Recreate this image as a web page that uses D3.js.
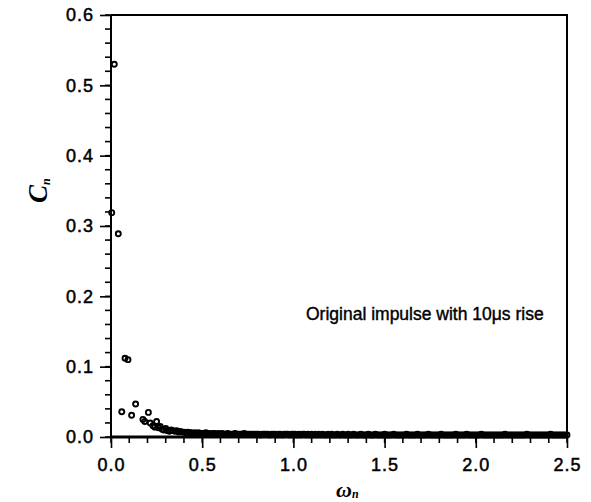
<!DOCTYPE html>
<html>
<head>
<meta charset="utf-8">
<script src="https://cdn.jsdelivr.net/npm/d3@7"></script>
<style>
body{margin:0;background:#fff}
svg text{font-family:Arial,"Liberation Sans",sans-serif;fill:#000}
</style>
</head>
<body>
<svg id="graph"></svg>
<script>
// tick labels
var xMajor = [0,0.5,1.0,1.5,2.0,2.5]
var xTickLabels = ["0.0","0.5","1.0","1.5","2.0","2.5"]
var yMajor = [0,0.1,0.2,0.3,0.4,0.5,0.6]
var yTickLabels = ["0.0","0.1","0.2","0.3","0.4","0.5","0.6"]

// first harmonics
var omegaHead = [0.004,0.018,0.040,0.059,0.077,0.093,0.113,0.135,0.175,0.185,0.205,0.215,0.230,0.240,0.250,0.260,0.270,0.280,0.290,0.300,0.310,0.320,0.330]
var cnHead = [0.319,0.530,0.289,0.036,0.112,0.110,0.031,0.047,0.025,0.022,0.035,0.020,0.016,0.014,0.022,0.013,0.015,0.011,0.010,0.012,0.009,0.008,0.010]

// the long tail sitting on the axis
var omegaTail = [0.34,0.35,0.36,0.37,0.38,0.39,
0.40,0.41,0.42,0.43,0.44,0.45,0.46,0.47,0.48,0.49,
0.50,0.51,0.52,0.53,0.54,0.55,0.56,0.57,0.58,0.59,
0.60,0.61,0.62,0.63,0.64,0.65,0.66,0.67,0.68,0.69,
0.70,0.71,0.72,0.73,0.74,0.75,0.76,0.77,0.78,0.79,
0.80,0.81,0.82,0.83,0.84,0.85,0.86,0.87,0.88,0.89,
0.90,0.91,0.92,0.93,0.94,0.95,0.96,0.97,0.98,0.99,
1.00,1.01,1.02,1.03,1.04,1.05,1.06,1.07,1.08,1.09,
1.10,1.11,1.12,1.13,1.14,1.15,1.16,1.17,1.18,1.19,
1.20,1.21,1.22,1.23,1.24,1.25,1.26,1.27,1.28,1.29,
1.30,1.31,1.32,1.33,1.34,1.35,1.36,1.37,1.38,1.39,
1.40,1.41,1.42,1.43,1.44,1.45,1.46,1.47,1.48,1.49,
1.50,1.51,1.52,1.53,1.54,1.55,1.56,1.57,1.58,1.59,
1.60,1.61,1.62,1.63,1.64,1.65,1.66,1.67,1.68,1.69,
1.70,1.71,1.72,1.73,1.74,1.75,1.76,1.77,1.78,1.79,
1.80,1.81,1.82,1.83,1.84,1.85,1.86,1.87,1.88,1.89,
1.90,1.91,1.92,1.93,1.94,1.95,1.96,1.97,1.98,1.99,
2.00,2.01,2.02,2.03,2.04,2.05,2.06,2.07,2.08,2.09,
2.10,2.11,2.12,2.13,2.14,2.15,2.16,2.17,2.18,2.19,
2.20,2.21,2.22,2.23,2.24,2.25,2.26,2.27,2.28,2.29,
2.30,2.31,2.32,2.33,2.34,2.35,2.36,2.37,2.38,2.39,
2.40,2.41,2.42,2.43,2.44,2.45,2.46,2.47,2.48,2.49,
2.50]
var cnTail = [0.009,0.008,0.009,0.007,0.008,0.007,
0.007,0.006,0.007,0.006,0.006,0.005,0.006,0.005,0.006,0.005,
0.005,0.005,0.006,0.005,0.005,0.004,0.005,0.005,0.004,0.005,
0.004,0.005,0.004,0.004,0.005,0.004,0.004,0.004,0.005,0.004,
0.004,0.004,0.004,0.005,0.004,0.004,0.004,0.004,0.004,0.004,
0.004,0.004,0.003,0.004,0.004,0.004,0.004,0.003,0.004,0.004,
0.004,0.003,0.004,0.004,0.003,0.004,0.004,0.004,0.003,0.004,
0.004,0.004,0.003,0.004,0.003,0.004,0.004,0.003,0.004,0.003,
0.004,0.003,0.004,0.003,0.004,0.003,0.004,0.003,0.003,0.004,
0.003,0.004,0.003,0.003,0.004,0.003,0.003,0.004,0.003,0.003,
0.004,0.003,0.003,0.004,0.003,0.003,0.003,0.004,0.003,0.003,
0.003,0.004,0.003,0.003,0.003,0.004,0.003,0.003,0.003,0.003,
0.004,0.003,0.003,0.003,0.003,0.004,0.003,0.003,0.003,0.003,
0.003,0.003,0.004,0.003,0.003,0.003,0.003,0.003,0.004,0.003,
0.003,0.003,0.003,0.003,0.004,0.003,0.003,0.003,0.003,0.003,
0.003,0.004,0.003,0.003,0.003,0.003,0.003,0.003,0.003,0.004,
0.003,0.003,0.003,0.003,0.003,0.004,0.003,0.003,0.003,0.003,
0.003,0.003,0.003,0.004,0.003,0.003,0.003,0.003,0.003,0.003,
0.003,0.003,0.003,0.003,0.003,0.003,0.004,0.003,0.003,0.003,
0.003,0.003,0.003,0.003,0.003,0.003,0.003,0.003,0.004,0.003,
0.003,0.003,0.003,0.003,0.003,0.003,0.003,0.003,0.003,0.003,
0.003,0.004,0.003,0.003,0.003,0.003,0.003,0.003,0.003,0.003,
0.003]

var noteText = "Original impulse with 10\u03bcs rise"

var screen = {width:591,height:502}
var plot = {left:111,right:567,top:15,bottom:437}

var svg = d3.select("#graph")
.attr("width",screen.width)
.attr("height",screen.height)

var xscale = d3.scaleLinear()
.domain([0,2.5])
.range([plot.left,plot.right])

var yscale = d3.scaleLinear()
.domain([0,0.6])
.range([plot.bottom,plot.top])

// minor ticks, drawn by hand from the scales
var xMinor = d3.range(0,26).map(function(i){return i/10})
var yMinor = d3.range(0,31).map(function(i){return i/50})

svg.append("g")
.selectAll("line")
.data(xMinor)
.enter()
.append("line")
.attr("x1",function(d){return xscale(d)})
.attr("x2",function(d){return xscale(d)})
.attr("y1",plot.bottom)
.attr("y2",plot.bottom+6)
.attr("stroke","#000")
.attr("stroke-width",1.6)

svg.append("g")
.selectAll("line")
.data(yMinor)
.enter()
.append("line")
.attr("x1",plot.left)
.attr("x2",plot.left-6)
.attr("y1",function(d){return yscale(d)})
.attr("y2",function(d){return yscale(d)})
.attr("stroke","#000")
.attr("stroke-width",1.6)

// major ticks + labels
svg.append("g")
.attr("transform","translate(0,"+plot.bottom+")")
.call(d3.axisBottom(xscale).tickValues(xMajor).tickSize(11).tickPadding(10)
    .tickFormat(function(d,i){return xTickLabels[i]}))
svg.append("g")
.attr("transform","translate("+plot.left+",0)")
.call(d3.axisLeft(yscale).tickValues(yMajor).tickSize(11).tickPadding(6)
    .tickFormat(function(d,i){return yTickLabels[i]}))

svg.selectAll(".domain").remove()
svg.selectAll(".tick line").attr("stroke","#000").attr("stroke-width",1.6)
svg.selectAll(".tick text")
.style("font-size","18px")
.style("letter-spacing","1px")
.attr("stroke","#000")
.attr("stroke-width",0.5)

// frame
svg.append("path")
.attr("d","M"+plot.left+","+plot.top+"H"+plot.right+"V"+plot.bottom)
.attr("fill","none")
.attr("stroke","#000")
.attr("stroke-width",2)
svg.append("line")
.attr("x1",plot.left).attr("x2",plot.left)
.attr("y1",plot.top).attr("y2",plot.bottom+1)
.attr("stroke","#000").attr("stroke-width",2)
svg.append("line")
.attr("x1",plot.left).attr("x2",plot.right+1)
.attr("y1",plot.bottom).attr("y2",plot.bottom)
.attr("stroke","#000").attr("stroke-width",3)

// points
var points = omegaHead.map(function(w,i){return {w:w,c:cnHead[i]}})
.concat(omegaTail.map(function(w,i){return {w:w,c:cnTail[i]}}))

svg.append("g")
.selectAll("circle")
.data(points)
.enter()
.append("circle")
.attr("cx",function(p){return xscale(p.w)})
.attr("cy",function(p){return yscale(p.c)})
.attr("r",2.5)
.attr("fill","none")
.attr("stroke","#000")
.attr("stroke-width",1.9)

// annotation
svg.append("text")
.attr("x",306)
.attr("y",320)
.style("font-size","17.5px")
.attr("stroke","#000")
.attr("stroke-width",0.4)
.text(noteText)

// axis titles
var yTitle = svg.append("text")
.attr("transform","translate(47,203) rotate(-90)")
.style("font-family","'Liberation Serif','Times New Roman',serif")
.style("font-weight","bold")
.style("font-style","italic")
.style("font-size","27px")
yTitle.append("tspan").text("C")
yTitle.append("tspan").attr("dy",3).style("font-size","12px").text("n")

var xTitle = svg.append("text")
.attr("x",336)
.attr("y",497)
.style("font-family","'Liberation Serif','Times New Roman',serif")
.style("font-weight","bold")
.style("font-style","italic")
.style("font-size","22px")
xTitle.append("tspan").text("\u03c9")
xTitle.append("tspan").attr("dy",1).style("font-size","12px").text("n")
</script>
</body>
</html>
